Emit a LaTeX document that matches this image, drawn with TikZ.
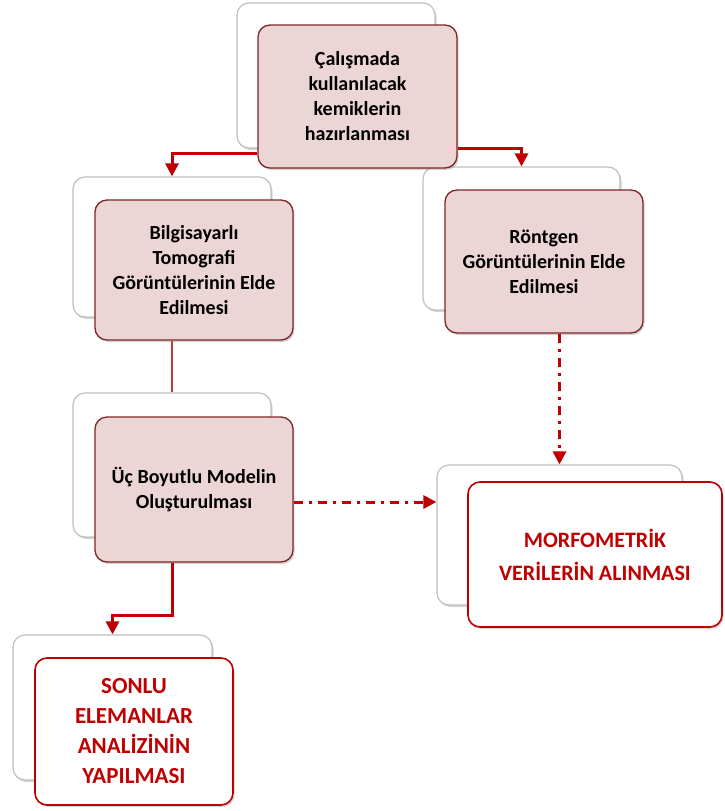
\documentclass[tikz,border=0pt]{standalone}
\usepackage{fontspec}
\setmainfont{Carlito}
\usetikzlibrary{arrows.meta,shadows}
\definecolor{cred}{HTML}{C00000}
\definecolor{pinkf}{HTML}{EBD5D5}
\definecolor{pinkd}{HTML}{7F2626}
\definecolor{lred}{HTML}{C03838}
\begin{document}
\begin{tikzpicture}[x=1pt,y=-1pt,
  backbox/.style={draw=gray!50, line width=1.2pt, fill=white, rounded corners=12pt,
    drop shadow={shadow xshift=1.5pt,shadow yshift=-2pt,opacity=0.35}, inner sep=0pt},
  pinkbox/.style={draw=pinkd, line width=1.3pt, fill=pinkf, rounded corners=12pt,
    drop shadow={shadow xshift=1.5pt,shadow yshift=-2pt,opacity=0.35},
    font=\bfseries\fontsize{20}{25}\selectfont, align=center, text=black, inner sep=0pt},
  redbox/.style={draw=cred, line width=1.6pt, fill=white, rounded corners=12pt,
    drop shadow={shadow xshift=1.5pt,shadow yshift=-2pt,opacity=0.35},
    align=center, text=cred, inner sep=0pt},
  conn/.style={draw=cred, line width=3pt, -{Triangle[length=13pt,width=13pt]}},
  ddconn/.style={conn, dash pattern=on 9pt off 6pt on 3pt off 6pt},
  thinline/.style={draw=lred, line width=2.5pt},
]
\useasboundingbox (0,0) rectangle (725,811);

% back boxes
\node[backbox, minimum width=198pt, minimum height=145pt] (tb) at (336,75.5) {};
\node[backbox, minimum width=198pt, minimum height=140pt] (lb) at (172,247) {};
\node[backbox, minimum width=197pt, minimum height=143pt] (rb) at (521.5,238.5) {};
\node[backbox, minimum width=198pt, minimum height=144pt] (l3b) at (172,465) {};
\node[backbox, minimum width=245pt, minimum height=140pt] (mb) at (559.5,535) {};
\node[backbox, minimum width=199pt, minimum height=145pt] (sb) at (112.5,707.5) {};

% front boxes
\node[pinkbox, minimum width=199pt, minimum height=143pt] (tf) at (357.5,96.5)
  {Çalışmada\\kullanılacak\\kemiklerin\\hazırlanması};
\node[pinkbox, minimum width=198pt, minimum height=140pt] (lf) at (194,270)
  {Bilgisayarlı\\Tomografi\\Görüntülerinin Elde\\Edilmesi};
\node[pinkbox, minimum width=198pt, minimum height=143pt] (rf) at (544,261.5)
  {Röntgen\\Görüntülerinin Elde\\Edilmesi};
\node[pinkbox, minimum width=198pt, minimum height=145pt] (l3f) at (194,489.5)
  {Üç Boyutlu Modelin\\Oluşturulması};
\node[redbox, minimum width=254pt, minimum height=145pt,
  font=\bfseries\fontsize{22}{33}\selectfont] (mf) at (595,554.5)
  {MORFOMETRİK\\VERİLERİN ALINMASI};
\node[redbox, minimum width=198pt, minimum height=147pt,
  font=\bfseries\fontsize{23}{30}\selectfont] (sf) at (134,731.5)
  {SONLU\\ELEMANLAR\\ANALİZİNİN\\YAPILMASI};

% connectors
\draw[conn] (tf.west |- 0,153) -| (lb.north);
\draw[conn] (tf.east |- 0,148) -| (rb.north);
\draw[thinline] (lb.center |- lf.south) -- (l3b.north);
\draw[ddconn] (l3f.east |- 0,502) -- (mb.west |- 0,502);
\draw[ddconn] (mb.north |- rf.south) -- (mb.north);
\coordinate (bend) at (172,615);
\draw[conn] (l3b.center |- l3f.south) -- (bend) -| (sb.north);
\end{tikzpicture}
\end{document}
